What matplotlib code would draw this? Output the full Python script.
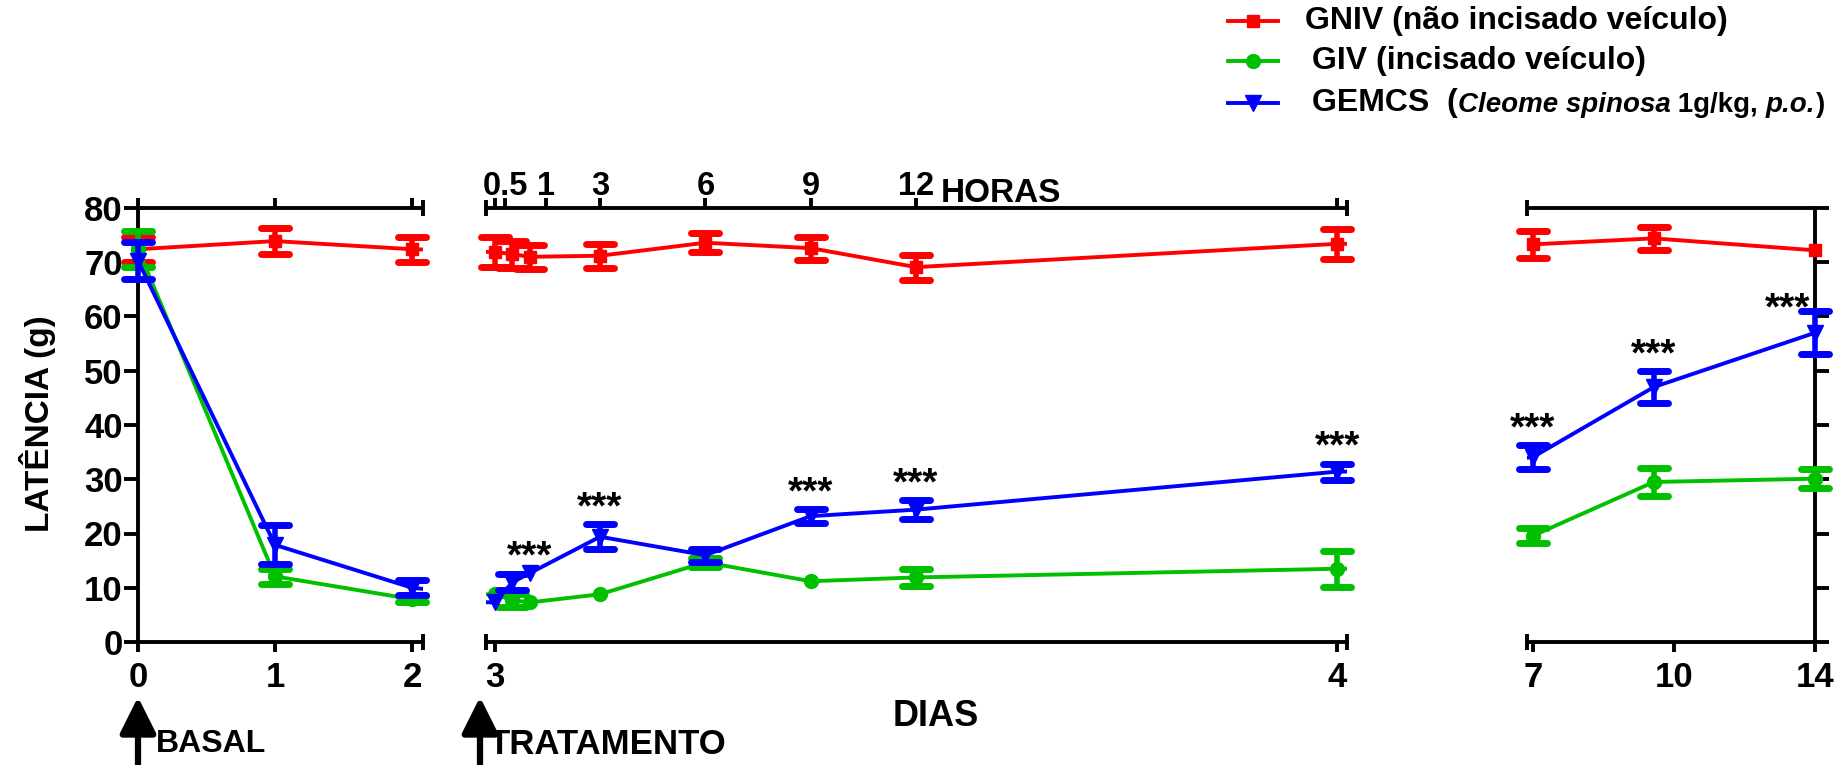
import numpy as np
import matplotlib.pyplot as plt
from matplotlib.markers import MarkerStyle
from matplotlib.text import Annotation

plt.rcParams['font.family'] = ['Liberation Sans', 'DejaVu Sans']
plt.rcParams['font.weight'] = 'bold'

# tempos: dias basais, horas apos o tratamento (dia 3) e dias finais
dias = [0, 1, 2]
horas = [0, 0.5, 1, 3, 6, 9, 12, 24]
dias_finais = [7, 10, 14]

# latencia media (g) e erro padrao
gniv = [72.4, 73.9, 72.4, 71.9, 71.5, 71.0, 71.2, 73.6, 72.6, 69.1, 73.4, 73.3, 74.4, 72.2]
gniv_ep = [2.3, 2.4, 2.3, 2.8, 2.5, 2.2, 2.2, 1.8, 2.1, 2.3, 2.8, 2.5, 2.1, 0]
giv = [72.4, 12.1, 7.9, 8.8, 7.7, 7.3, 8.8, 14.7, 11.2, 11.9, 13.5, 19.6, 29.5, 30.1]
giv_ep = [3.3, 1.4, 0.5, 0, 1.2, 0, 0, 0.8, 0, 1.5, 3.3, 1.4, 2.6, 1.7]
gemcs = [70.3, 17.9, 10.0, 7.3, 11.0, 12.7, 19.4, 16.0, 23.2, 24.4, 31.4, 34.1, 47.0, 57.0]
gemcs_ep = [3.4, 3.6, 1.4, 0, 1.5, 0, 2.3, 1.2, 1.3, 1.8, 1.5, 2.2, 3.0, 4.0]

# pontos com p < 0.001 (GEMCS vs GIV)
signif = [5, 6, 8, 9, 10, 11, 12, 13]

x = np.array(dias + [3 + h / 24 for h in horas] + dias_finais, float)

series = [
    ('GNIV', gniv, gniv_ep, '#ff0000', 's', 8.5),
    ('GIV', giv, giv_ep, '#00c000', 'o', 10),
    ('GEMCS', gemcs, gemcs_ep, '#0000ff', 'v', 11),
]

LW = 2.8
FS = 25

fig = plt.figure(figsize=(18.34, 7.65), dpi=100)
W, H = 1834., 765.
bot, top = 642, 208


def rect(x0, x1):
    return [x0 / W, 1 - bot / H, (x1 - x0) / W, (bot - top) / H]


panels = [
    (fig.add_axes(rect(138, 423)), (0, 2.08)),
    (fig.add_axes(rect(486, 1347)), (3 - 0.25 / 24, 3 + 24.28 / 24)),
    (fig.add_axes(rect(1527, 1815)), (6.85, 14.0)),
]

for ax, (lo, hi) in panels:
    ax.set_xlim(lo, hi)
    ax.set_ylim(0, 80)
    for s in ax.spines.values():
        s.set_linewidth(LW)
    ax.tick_params(width=LW, labelsize=FS, color='k')
    dentro = (x >= lo - 1e-9) & (x <= hi + 1e-9)
    for k, (nome, m, ep, cor, mk, ms) in enumerate(series):
        m = np.array(m)
        ep = np.array(ep)
        z = 3 + k
        ax.plot(x, m, color=cor, lw=LW, zorder=z)
        ax.plot(x[dentro], m[dentro], ls='none', marker=mk, ms=ms, color=cor,
                clip_on=False, zorder=z)
        comb = dentro & (ep > 0)
        eb = ax.errorbar(x[comb], m[comb], yerr=ep[comb], fmt='none', ecolor=cor,
                         elinewidth=4, capsize=10, capthick=5, zorder=z)
        for cap in eb.lines[1]:
            cap.set_marker(MarkerStyle('_', capstyle='round'))
            cap.set_clip_on(False)
        for col in eb.lines[2]:
            col.set_clip_on(False)
    # asteriscos
    for i in signif:
        if not dentro[i]:
            continue
        dx, dy = (-20, -6) if i == 13 else (0, 4)
        ax.annotate('***', xy=(x[i], gemcs[i] + gemcs_ep[i]), xytext=(dx, dy),
                    textcoords='offset points', ha='center', va='baseline',
                    fontsize=28, fontweight='bold', annotation_clip=False)


def quebra(ax, xq):
    # marca de eixo interrompido nas linhas de cima e de baixo
    tr = ax.get_xaxis_transform()
    for yb in (0, 1):
        ax.plot([xq, xq], [yb - 0.018, yb + 0.018], color='k', lw=LW,
                transform=tr, clip_on=False, solid_capstyle='butt', zorder=10)


# painel basal
ax1 = panels[0][0]
ax1.spines['right'].set_visible(False)
ax1.set_yticks(range(0, 81, 10))
ax1.set_xticks(dias, [str(d) for d in dias])
ax1.tick_params(axis='y', length=10, pad=1)
ax1.tick_params(axis='x', top=True, length=7, pad=7)
quebra(ax1, 2.08)

# painel do dia do tratamento (eixo superior em horas)
ax2 = panels[1][0]
for lado in ('left', 'right', 'top'):
    ax2.spines[lado].set_visible(False)
ax2.set_yticks([])
ax2.set_xticks([3, 4], ['3', '4'])
ax2.tick_params(axis='x', length=7, pad=7)
sec = ax2.secondary_xaxis('top', functions=(lambda d: (d - 3) * 24,
                                            lambda h: 3 + h / 24))
sec.spines['top'].set_linewidth(LW)
sec.set_xticks([0, 0.3, 1.45, 3, 6, 9, 12, 24],
               ['', '0.5', '1', '3', '6', '9', '12', ''])
sec.tick_params(width=LW, length=7, pad=-3, labelsize=23.5)
ax2.annotate('HORAS', xy=(3.5, 1), xycoords=('data', 'axes fraction'),
             xytext=(18, 4), textcoords='offset points', ha='left',
             va='baseline', fontsize=24, fontweight='bold')
quebra(ax2, panels[1][1][0])
quebra(ax2, panels[1][1][1])

# painel dos dias finais
ax3 = panels[2][0]
ax3.spines['left'].set_visible(False)
ax3.yaxis.set_ticks_position('right')
ax3.set_yticks(range(0, 81, 10))
ax3.tick_params(axis='y', length=10, labelright=False)
ax3.set_xticks([7, 10.5, 14], ['7', '10', '14'])
ax3.tick_params(axis='x', length=7, pad=7)
quebra(ax3, 6.85)

fig.text(38 / W, 1 - 424 / H, 'LATÊNCIA (g)', rotation=90, ha='center',
         va='center', fontsize=24, fontweight='bold')
fig.text(936 / W, 1 - 716 / H, 'DIAS', ha='center', va='center',
         fontsize=26, fontweight='bold')

# setas de inicio
for xs, rot, xt, fs in ((138, 'BASAL', 156, 23), (480, 'TRATAMENTO', 489, 25)):
    fig.add_artist(Annotation('', xy=(xs / W, 1 - 697 / H),
                              xytext=(xs / W, 1 - 764 / H),
                              xycoords='figure fraction',
                              arrowprops=dict(arrowstyle='-|>,head_length=1.0,head_width=0.5',
                                              lw=4.5, color='k', shrinkA=0, shrinkB=0,
                                              mutation_scale=22)))
    fig.text(xt / W, 1 - 744 / H, rot, ha='left', va='center',
             fontsize=fs, fontweight='bold')

# legenda
leg_y = [21, 61, 103]
for (nome, m, ep, cor, mk, ms), yy in zip(series, leg_y):
    fy = 1 - yy / H
    fig.add_artist(plt.Line2D([1228 / W, 1278 / W], [fy, fy], color=cor, lw=LW,
                              transform=fig.transFigure))
    fig.add_artist(plt.Line2D([1253 / W], [fy], color=cor, marker=mk, ms=ms,
                              transform=fig.transFigure))

FL = 23
fig.text(1305 / W, 1 - leg_y[0] / H, 'GNIV (não incisado veículo)', va='center',
         fontsize=FL, fontweight='bold')
fig.text(1312 / W, 1 - leg_y[1] / H, 'GIV (incisado veículo)', va='center',
         fontsize=FL, fontweight='bold')
partes = [('Cleome spinosa', 'italic'), (' 1g/kg, ', 'normal'),
          ('p.o.', 'italic'), (')', 'normal')]
prev = fig.text(1312 / W, 1 - leg_y[2] / H, 'GEMCS  (', va='center',
                fontsize=FL, fontweight='bold')
for txt, estilo in partes:
    prev = fig.add_artist(Annotation(txt, xy=(1, 0), xycoords=prev, va='bottom',
                                     ha='left', fontsize=20, fontweight='bold',
                                     style=estilo))

fig.savefig('out.png', dpi=100)
